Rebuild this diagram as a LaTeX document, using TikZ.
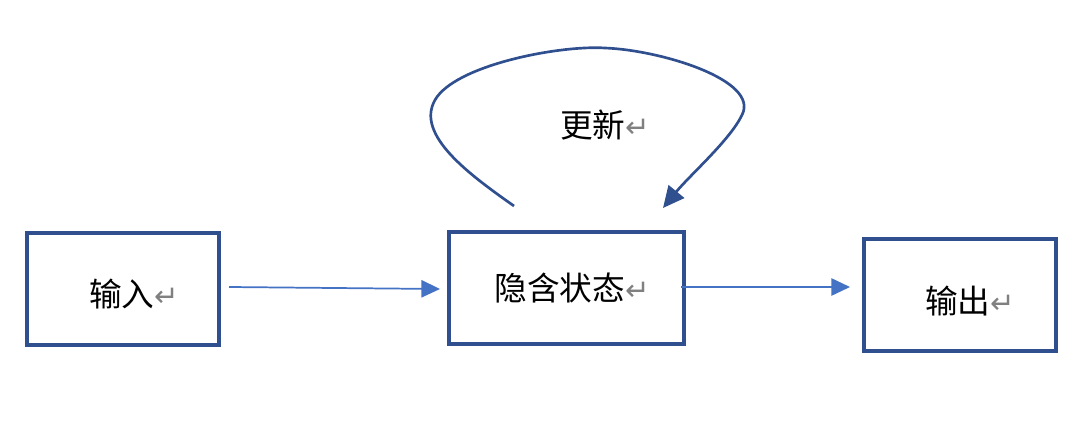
\documentclass[tikz,border=0pt]{standalone}
\usepackage{fontspec}
\setmainfont{Noto Sans CJK SC}
\newfontfamily\symfont{DejaVu Sans}
\usetikzlibrary{arrows.meta}
\definecolor{boxblue}{HTML}{2F4F8F}
\definecolor{arrblue}{HTML}{4472C4}
\tikzset{every picture/.style={line width=0.75pt}}
\tikzset{
  stagebox/.style={draw=boxblue,line width=2.4pt},
  flow/.style={draw=arrblue,line width=1.3pt,-{Triangle[length=14pt,width=13pt]}},
  label/.style={inner sep=0pt,font=\fontsize{24.5}{28}\selectfont},
}
\newcommand{\retmark}{{\color{gray}\symfont\fontsize{22}{26}\selectfont ↵}}

\begin{document}
\begin{tikzpicture}[x=0.75pt,y=0.75pt,yscale=-1,xscale=1]
        \useasboundingbox (0,0) rectangle (1092,435);

        % boxes
        \draw [stagebox] (27,233) rectangle (219,345);
        \draw [stagebox] (449,232) rectangle (684,344);
        \draw [stagebox] (864,239) rectangle (1056,351);

        % Text Node
        \node [label] (inp) at (134,294) {输入\retmark};
        % Text Node
        \node [label] (hid) at (572,288) {隐含状态\retmark};
        % Text Node
        \node [label] (outp) at (970,301) {输出\retmark};
        % Text Node
        \node [label] (upd) at (605,125) {更新\retmark};

        \coordinate (a1) at (229,287);
        \coordinate (a2) at (440,289);
        \coordinate (b1) at (681,287);
        \coordinate (b2) at (850,287);
        \coordinate (l1) at (514,206);
        \coordinate (l2) at (663,208);

        % arrows
        \draw [flow] (a1) -- (a2);
        \draw [flow] (b1) -- (b2);

        % loop
        \draw [boxblue,line width=2pt,-{Triangle[length=16pt,width=15pt]}] (l1)
          .. controls (470,175) and (415,135) .. (435,100)
          .. controls (455,65) and (560,45) .. (605,48)
          .. controls (660,50) and (760,80) .. (742,115)
          .. controls (730,140) and (690,175) .. (l2);
\end{tikzpicture}
\end{document}
